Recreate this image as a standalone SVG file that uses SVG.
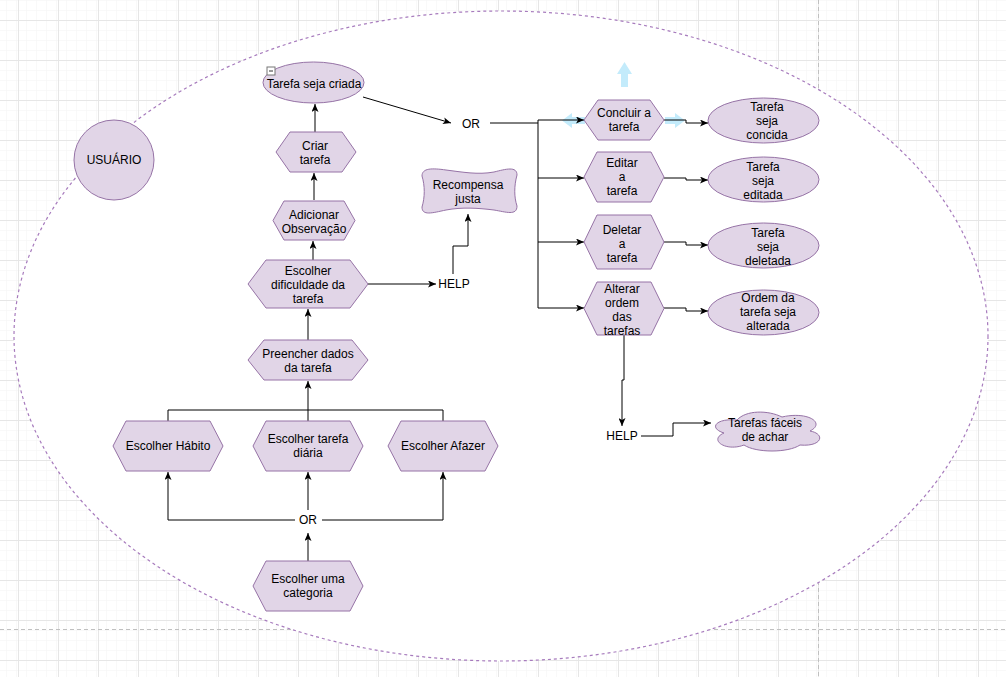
<svg xmlns="http://www.w3.org/2000/svg" width="1006" height="677" viewBox="0 0 1006 677">
<defs>
<pattern id="minor" x="18" y="20" width="10" height="10" patternUnits="userSpaceOnUse">
<path d="M0,0 H10 M0,0 V10" fill="none" stroke="#f3f3f3" stroke-width="1"/>
</pattern>
<pattern id="major" x="18" y="20" width="40" height="40" patternUnits="userSpaceOnUse">
<rect width="40" height="40" fill="url(#minor)"/>
<path d="M0,0.5 H40 M0.5,0 V40" fill="none" stroke="#e6e6e6" stroke-width="1"/>
</pattern>
<marker id="arr" viewBox="0 0 8 7" refX="8" refY="3.5" markerWidth="8" markerHeight="7" orient="auto" markerUnits="userSpaceOnUse">
<path d="M0,0 L8,3.5 L0,7 L2,3.5 z" fill="#000"/>
</marker>
</defs>
<style>
.n{fill:#e1d5e7;stroke:#9673a6;stroke-width:1}
.t{font-family:"Liberation Sans",Arial,sans-serif;font-size:12px;fill:#000;text-anchor:middle}
.c{fill:none;stroke:#000;stroke-width:1}
.a{marker-end:url(#arr)}
.pb{stroke:#c0c0c0;stroke-width:1;stroke-dasharray:4,3;fill:none}
.hov{fill:#29b6f2;fill-opacity:0.28}
</style>
<rect width="1006" height="677" fill="#fff"/>
<rect width="1006" height="677" fill="url(#major)"/>
<path class="pb" d="M818.5,0 V677 M0,629.5 H1006"/>
<ellipse cx="501" cy="336" rx="487" ry="325" fill="#fff" stroke="#a77bbd" stroke-width="1.2" stroke-dasharray="3,3"/>

<g id="hover-arrows">
<path class="hov" d="M624.5,62 L632,74 L628,74 L628,87 L621,87 L621,74 L617,74 Z"/>
<path class="hov" d="M562,120.5 L572,113 L572,117 L585,117 L585,124 L572,124 L572,128 Z"/>
<path class="hov" d="M685,120.5 L675,113 L675,117 L665,117 L665,124 L675,124 L675,128 Z"/>
</g>

<g id="connectors">
<path class="c a" d="M314,200 V173"/>
<path class="c a" d="M315,132 V104"/>
<path class="c a" d="M313,260 V241"/>
<path class="c a" d="M308,340 V309"/>
<path class="c" d="M168,421 V410 H443 V421"/>
<path class="c a" d="M308,421 V381"/>
<path class="c a" d="M295,520 H168 V472"/>
<path class="c a" d="M322,520 H443 V472"/>
<path class="c a" d="M308,510 V472"/>
<path class="c a" d="M308,561 V533"/>
<path class="c a" d="M368,284 H436"/>
<path class="c a" d="M453,274 V246 H468 V214"/>
<path class="c a" d="M363,97 L451,123"/>
<path class="c" d="M490,123 H538 M538,120 V308"/>
<path class="c a" d="M538,120 H584"/>
<path class="c a" d="M538,178 H584"/>
<path class="c a" d="M538,242 H584"/>
<path class="c a" d="M538,308 H584"/>
<path class="c a" d="M664,120 H686 V123 H708"/>
<path class="c a" d="M664,178 H686 V180 H708"/>
<path class="c a" d="M664,242 H686 V245 H708"/>
<path class="c a" d="M664,308 H686 V311 H708"/>
<path class="c a" d="M624,335 V380 H622 V426"/>
<path class="c a" d="M641,436 H673 V423 H711"/>
</g>

<g id="usuario">
<circle class="n" cx="114" cy="160" r="40"/>
<text class="t" x="114" y="164">USUÁRIO</text>
</g>

<g id="tarefa-seja-criada">
<ellipse class="n" cx="313.5" cy="82.5" rx="50.5" ry="20.5"/>
<rect x="267" y="67" width="8" height="8" fill="#fff" stroke="#777" stroke-width="1"/>
<path d="M269,71 H273" stroke="#333" stroke-width="1"/>
<text class="t" x="314" y="88">Tarefa seja criada</text>
</g>

<g id="criar-tarefa">
<polygon class="n" points="276,152 290,132 342,132 356,152 342,172 290,172"/>
<text class="t" x="315" y="150">Criar</text>
<text class="t" x="315" y="164">tarefa</text>
</g>

<g id="adicionar-observacao">
<polygon class="n" points="273,220.5 284,201 344,201 355,220.5 344,240 284,240"/>
<text class="t" x="314" y="219">Adicionar</text>
<text class="t" x="314" y="233">Observação</text>
</g>

<g id="escolher-dificuldade">
<polygon class="n" points="248,284 266,260 350,260 368,284 350,308 266,308"/>
<text class="t" x="308" y="275">Escolher</text>
<text class="t" x="308" y="289">dificuldade da</text>
<text class="t" x="308" y="303">tarefa</text>
</g>

<g id="preencher-dados">
<polygon class="n" points="248,360 264,340 352,340 368,360 352,380 264,380"/>
<text class="t" x="308" y="358">Preencher dados</text>
<text class="t" x="308" y="372">da tarefa</text>
</g>

<g id="escolher-habito">
<polygon class="n" points="113,446 126,421 210,421 223,446 210,471 126,471"/>
<text class="t" x="168" y="450">Escolher Hábito</text>
</g>

<g id="escolher-tarefa-diaria">
<polygon class="n" points="253,446 266,421 350,421 363,446 350,471 266,471"/>
<text class="t" x="308" y="443">Escolher tarefa</text>
<text class="t" x="308" y="457">diária</text>
</g>

<g id="escolher-afazer">
<polygon class="n" points="388,446 401,421 485,421 498,446 485,471 401,471"/>
<text class="t" x="443" y="450">Escolher Afazer</text>
</g>

<g id="or-bottom">
<text class="t" x="308" y="524">OR</text>
</g>

<g id="escolher-categoria">
<polygon class="n" points="253,586 266,561 350,561 363,586 350,611 266,611"/>
<text class="t" x="308" y="583">Escolher uma</text>
<text class="t" x="308" y="597">categoria</text>
</g>

<g id="or-top">
<text class="t" x="471" y="128">OR</text>
</g>

<g id="help-mid">
<text class="t" x="454" y="288">HELP</text>
</g>

<g id="recompensa-justa">
<path class="n" d="M422,176 C422,168 432,168 446,170 C462,172 478,175 494,172 C506,169 517,166 517,175 C514,186 514,197 517,206 C517,216 506,212 494,210 C478,208 462,207 446,210 C432,213 422,216 422,207 C425,197 425,186 422,176 Z"/>
<text class="t" x="468" y="189">Recompensa</text>
<text class="t" x="468" y="203">justa</text>
</g>

<g id="concluir">
<polygon class="n" points="584,120 598,100 650,100 664,120 650,140 598,140"/>
<text class="t" x="624" y="117">Concluir a</text>
<text class="t" x="624" y="131">tarefa</text>
</g>

<g id="editar">
<polygon class="n" points="584,177 597,152 651,152 664,177 651,202 597,202"/>
<text class="t" x="622" y="167">Editar</text>
<text class="t" x="622" y="181">a</text>
<text class="t" x="622" y="195">tarefa</text>
</g>

<g id="deletar">
<polygon class="n" points="584,242 597,215 651,215 664,242 651,269 597,269"/>
<text class="t" x="622" y="234">Deletar</text>
<text class="t" x="622" y="248">a</text>
<text class="t" x="622" y="262">tarefa</text>
</g>

<g id="alterar">
<polygon class="n" points="584,308.5 597,282 651,282 664,308.5 651,335 597,335"/>
<text class="t" x="622" y="293">Alterar</text>
<text class="t" x="622" y="307">ordem</text>
<text class="t" x="622" y="321">das</text>
<text class="t" x="622" y="335">tarefas</text>
</g>

<g id="tarefa-concida">
<ellipse class="n" cx="763.5" cy="120.5" rx="55.5" ry="22.5"/>
<text class="t" x="767" y="111">Tarefa</text>
<text class="t" x="767" y="125">seja</text>
<text class="t" x="767" y="139">concida</text>
</g>

<g id="tarefa-editada">
<ellipse class="n" cx="763.5" cy="179.5" rx="55.5" ry="22.5"/>
<text class="t" x="763" y="171">Tarefa</text>
<text class="t" x="763" y="185">seja</text>
<text class="t" x="763" y="199">editada</text>
</g>

<g id="tarefa-deletada">
<ellipse class="n" cx="763.5" cy="245.5" rx="55.5" ry="22.5"/>
<text class="t" x="768" y="237">Tarefa</text>
<text class="t" x="768" y="251">seja</text>
<text class="t" x="768" y="265">deletada</text>
</g>

<g id="ordem-alterada">
<ellipse class="n" cx="763.5" cy="312.5" rx="55.5" ry="22.5"/>
<text class="t" x="768" y="302">Ordem da</text>
<text class="t" x="768" y="316">tarefa seja</text>
<text class="t" x="768" y="330">alterada</text>
</g>

<g id="help-lower">
<text class="t" x="622" y="440">HELP</text>
</g>

<g id="tarefas-faceis">
<path class="n" d="M737,420 C716,418 708,428 724,433 C708,440 726,452 744,445 C756,453 788,453 800,445 C822,447 826,434 810,431 C826,423 808,411 782,417 C768,410 746,410 737,420 Z"/>
<text class="t" x="765" y="427">Tarefas fáceis</text>
<text class="t" x="765" y="441">de achar</text>
</g>
</svg>
